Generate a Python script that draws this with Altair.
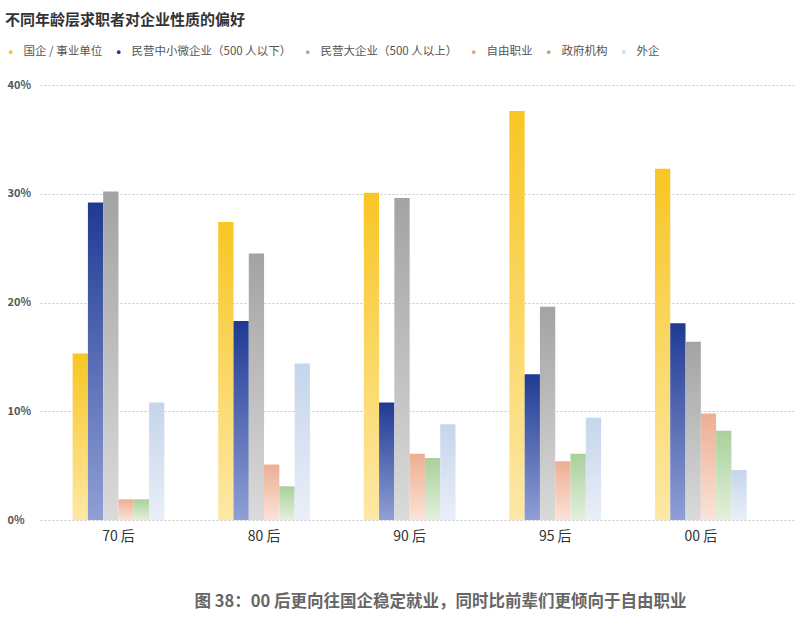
import altair as alt
import pandas as pd

generations = ["70 后", "80 后", "90 后", "95 后", "00 后"]
series = ["国企 / 事业单位", "民营中小微企业（500 人以下）", "民营大企业（500 人以上）", "自由职业", "政府机构", "外企"]

state_owned = [15.3, 27.4, 30.1, 37.6, 32.3]
private_small = [29.2, 18.3, 10.8, 13.4, 18.1]
private_large = [30.2, 24.5, 29.6, 19.6, 16.4]
freelance = [1.9, 5.1, 6.1, 5.4, 9.8]
government = [1.9, 3.1, 5.7, 6.1, 8.2]
foreign = [10.8, 14.4, 8.8, 9.4, 4.6]

legend_colors = ["#F5C12E", "#1F3A8A", "#AAAAAA", "#E9A07F", "#8DC07A", "#D0DCEC"]
top_colors = ["#F8C623", "#1F3A93", "#A3A3A3", "#EDAE92", "#A9D09A", "#C5D5EB"]
bottom_colors = ["#FDE8A6", "#909FD5", "#DADADA", "#FBE3D8", "#E3F0DD", "#E9EFF8"]

all_values = [state_owned, private_small, private_large, freelance, government, foreign]
rows = []
for s, vals in zip(series, all_values):
    for g, v in zip(generations, vals):
        rows.append({"gen": g, "series": s, "value": v / 100})
df = pd.DataFrame(rows)

FONT = "Noto Sans CJK SC"
caption = "图 38：00 后更向往国企稳定就业，同时比前辈们更倾向于自由职业"

x_enc = alt.X(
    "gen:N",
    sort=generations,
    scale=alt.Scale(domain=generations, paddingInner=0.37, paddingOuter=0.278, align=0.403),
    axis=alt.Axis(
        title=caption,
        labelAngle=0,
        labelFontSize=14,
        labelColor="#333333",
        labelPadding=9,
        ticks=False,
        domain=False,
        titleFontSize=16.5,
        titleFontWeight="bold",
        titleColor="#666666",
        titlePadding=50,
        titleX=400,
        titleAlign="center",
        titleAnchor="start",
    ),
)
y_enc = alt.Y(
    "value:Q",
    scale=alt.Scale(domain=[0, 0.4]),
    axis=alt.Axis(
        title=None,
        format=".0%",
        values=[0, 0.1, 0.2, 0.3, 0.4],
        labelAlign="left",
        labelPadding=33,
        labelFontSize=11,
        labelFontWeight="bold",
        labelColor="#555555",
        ticks=False,
        domain=False,
        grid=True,
        gridColor="#C8C8C8",
        gridDash=[2, 2],
        gridWidth=1,
    ),
)
xoff = alt.XOffset("series:N", scale=alt.Scale(domain=series, paddingInner=0, paddingOuter=0))

layers = []
for s, top, bot in zip(series, top_colors, bottom_colors):
    grad = alt.Gradient(
        gradient="linear",
        stops=[alt.GradientStop(color=bot, offset=0), alt.GradientStop(color=top, offset=1)],
        x1=1, x2=1, y1=1, y2=0,
    )
    layers.append(
        alt.Chart(df).transform_filter(alt.datum.series == s)
        .mark_bar(color=grad)
        .encode(x=x_enc, y=y_enc, xOffset=xoff)
    )

legend_layer = alt.Chart(df).mark_circle(opacity=0).encode(
    x=x_enc,
    y=y_enc,
    xOffset=xoff,
    color=alt.Color(
        "series:N",
        scale=alt.Scale(domain=series, range=legend_colors),
        legend=alt.Legend(
            title=None,
            orient="none",
            legendX=-35,
            legendY=-39,
            direction="horizontal",
            symbolType="circle",
            symbolSize=14,
            symbolOpacity=1,
            symbolStrokeWidth=0,
            labelFontSize=11.5,
            labelColor="#555555",
            labelOffset=7,
            columnPadding=10,
            labelLimit=300,
        ),
    ),
)

chart = alt.layer(*layers, legend_layer).properties(
    width=755,
    height=435,
    title=alt.TitleParams(
        text="不同年龄层求职者对企业性质的偏好",
        anchor="start",
        frame="group",
        fontSize=15,
        fontWeight="bold",
        color="#333333",
        dx=-35,
        offset=18,
    ),
    autosize=alt.AutoSizeParams(type="none"),
    padding={"left": 40, "top": 85, "right": 5, "bottom": 111},
).configure(font=FONT).configure_view(stroke=None)

chart.save("out.html", embed_options={"renderer": "svg", "actions": False})
